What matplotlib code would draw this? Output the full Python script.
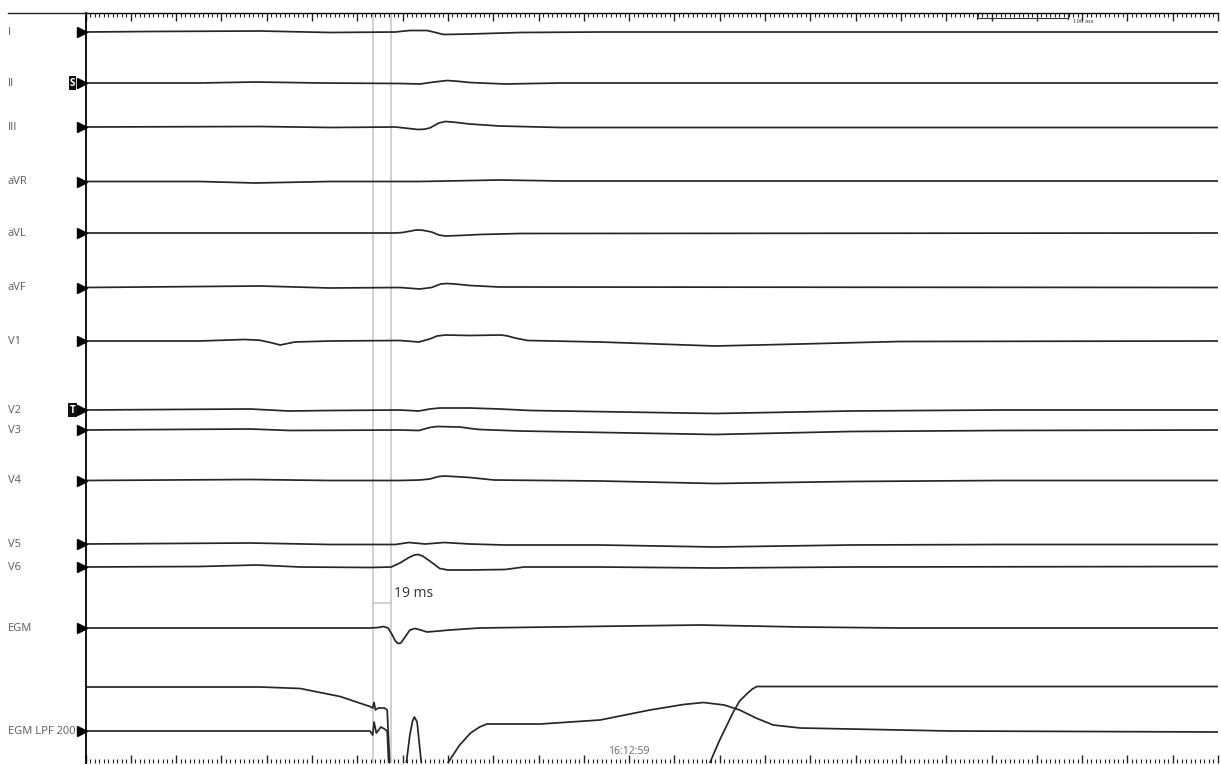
import numpy as np
import matplotlib.pyplot as plt
from matplotlib.lines import Line2D
from matplotlib.ticker import MultipleLocator
from matplotlib.transforms import blended_transform_factory

plt.rcParams["font.family"] = ["Open Sans", "DejaVu Sans"]

# ---- data: time in ms, deflection in screen px (up = positive) ----
lead_I_t = [0, 71, 193, 270, 342, 350, 358, 377, 384, 395, 424, 480, 568, 1250]
lead_I_v = [0, 0.5, 1, -0.5, 0, 0.8, 1.5, 1.5, 0, -2.5, -2, -0.5, 0, 0]

lead_II_t = [0, 126, 187, 260, 347, 369, 385, 399, 410, 424, 463, 524, 1250]
lead_II_v = [0, 0, 1, 0, -0.5, -1, 1, 2.5, 1.8, 0.5, -1, 0, 0]

lead_III_t = [0, 193, 270, 342, 360, 367, 374, 380, 390, 397, 405, 424, 457, 524, 1250]
lead_III_v = [0, 0.5, -0.5, 0, -1.8, -2.5, -2.2, -1, 4, 5.5, 5, 3, 1, -0.5, -0.5]

lead_aVR_t = [0, 126, 187, 270, 369, 457, 524, 1250]
lead_aVR_v = [0, 0, -1.5, 0, 0, 1.5, 0.5, 0.5]

lead_aVL_t = [0, 342, 350, 358, 365, 372, 382, 390, 397, 410, 435, 480, 1250]
lead_aVL_v = [0, 0, 0.5, 1.8, 3, 2.8, 1, -2, -3, -2.6, -1.5, -0.5, 0]

lead_aVF_t = [0, 193, 270, 347, 369, 382, 392, 399, 408, 424, 457, 1250]
lead_aVF_v = [0, 1.5, -0.5, 0, -1.5, 0, 3.5, 4, 3.5, 2, 0.5, 0]

lead_V1_t = [0, 126, 175, 192, 204, 215, 223, 231, 270, 347, 368, 380, 388, 397, 424,
             459, 466, 474, 488, 568, 695, 789, 899, 1250]
lead_V1_v = [0, 0, 1.5, 0.8, -1.5, -4, -2.5, -1, 0, 0.5, -1, 2, 5, 6, 5.5,
             6, 5, 3, 0.5, -1, -5, -3, -0.5, 0]

lead_V2_t = [0, 182, 224, 270, 347, 368, 380, 391, 424, 457, 491, 695, 844, 1009, 1250]
lead_V2_v = [0, 1, -1, -0.5, 0, -1, 1, 2, 2, 1, -0.5, -3.5, -1, 0, 0]

lead_V3_t = [0, 182, 226, 347, 368, 380, 388, 413, 425, 435, 480, 695, 844, 1009, 1250]
lead_V3_v = [0, 1, -0.5, 0, -0.5, 2.5, 3.5, 3, 1.5, 0.5, -1, -4.5, -1.5, -0.5, 0]

lead_V4_t = [0, 182, 270, 347, 369, 380, 390, 396, 410, 424, 451, 568, 695, 844, 1009, 1250]
lead_V4_v = [0, 1, 0, 0, 0.5, 1.5, 4, 4.5, 3.8, 3, 0.5, -0.5, -3, -1, 0, 0]

lead_V5_t = [0, 182, 270, 342, 357, 375, 396, 424, 463, 568, 695, 844, 1009, 1250]
lead_V5_v = [0, 1, -0.5, -0.5, 1.5, 0, 1.5, 0, -1, -1, -3, -1, -0.5, -0.5]

lead_V6_t = [0, 126, 189, 237, 314, 337.5, 347, 357, 363, 367, 372, 380, 391, 400,
             424, 463, 484, 568, 695, 844, 1250]
lead_V6_v = [0, 0.5, 2, 0, -0.5, 0, 4, 9.5, 12, 12.5, 11, 6, -1.5, -3,
             -3, -2.5, 0, 0, -1, 0, 0.5]

egm_t = [0, 314, 323, 329, 334, 338, 342, 345, 348, 352, 358, 364, 370, 377, 390, 402,
         435, 513, 678, 789, 899, 1250]
egm_v = [0, 0, 0.5, 1.5, 0, -6, -13, -15.5, -15, -10, -2, -0.5, -2, -4, -3, -2,
         0, 1, 3, 1, 0, 0]

ramp_t = [0, 193, 237, 281, 314, 317, 318.5, 320, 323, 330, 333, 337, np.nan,
          689, 700, 715, 722, 731, 736, 741, 1250]
ramp_v = [0, 0, -1.5, -9.5, -19.5, -21, -15.5, -23, -21, -21, -23, -100, np.nan,
          -76, -53, -25, -14, -6, -2, 0.5, 0.5]

lpf_t = [0, 237, 314, 317, 318.5, 321, 326, 330, 333, 335, 353, 358, 361, 363, 366, 371,
         398, 402, 413, 425, 435, 443, 502, 568, 623, 660, 682, 705, 722, 740, 759, 789,
         844, 954, 1250]
lpf_v = [0, 0, 0, -4, 9, -2, 4, 2, 0, -40, -40, -4, 10, 14, 9, -35,
         -35, -29, -14, -2, 4, 7, 7, 11, 21, 26.5, 28.5, 26, 21, 13, 6, 3,
         2, 0, -1]

labels = ["I", "II", "III", "aVR", "aVL", "aVF", "V1", "V2", "V3", "V4", "V5", "V6",
          "EGM", None, "EGM LPF 200"]
caliper_ms = [317, 337.5]
caliper_text = "19 ms"
clock_text = "16:12:59"
clock_ms = 600
scale_ms = [984, 1084]

traces = [(lead_I_t, lead_I_v), (lead_II_t, lead_II_v), (lead_III_t, lead_III_v),
          (lead_aVR_t, lead_aVR_v), (lead_aVL_t, lead_aVL_v), (lead_aVF_t, lead_aVF_v),
          (lead_V1_t, lead_V1_v), (lead_V2_t, lead_V2_v), (lead_V3_t, lead_V3_v),
          (lead_V4_t, lead_V4_v), (lead_V5_t, lead_V5_v), (lead_V6_t, lead_V6_v),
          (egm_t, egm_v), (ramp_t, ramp_v), (lpf_t, lpf_v)]

# layout: baseline of each channel in screen px from top
baselines = [32, 83, 127, 181.5, 233, 287.5, 341, 410, 430, 480.5, 544, 567, 628, 687, 731]

W, H, DPI = 1221, 765, 100
fig = plt.figure(figsize=(W / DPI, H / DPI), dpi=DPI)
ax = fig.add_axes([85.5 / W, 2 / H, (1218 - 85.5) / W, (763 - 13) / H])
ax.set_xlim(0, 1250)
ax.set_ylim(763, 13)

for (t, v), base in zip(traces, baselines):
    y = base - np.array(v, dtype=float)
    ax.plot(t, y, color="#262626", lw=1.25, solid_joinstyle="round")

# caliper
for c in caliper_ms:
    ax.axvline(c, color="#c4c4c4", lw=1.1, zorder=0)
ax.plot(caliper_ms, [603, 603], color="#c4c4c4", lw=1.1)
ax.text(caliper_ms[1] + 3, 593, caliper_text, fontsize=10, color="#333333", va="center")

# time stamp
ax.text(clock_ms, 751, clock_text, fontsize=7.5, color="#666666", ha="center", va="center")

# scale bar top right
ax.plot(scale_ms, [18, 18], color="#333333", lw=0.8)
for s in scale_ms:
    ax.plot([s, s], [14, 19], color="#333333", lw=0.8)
ax.text(scale_ms[1] + 6, 21, "100 ms", fontsize=4, color="#333333", va="center",
        family="DejaVu Serif")

# spines and ticks
for side in ["right", "bottom"]:
    ax.spines[side].set_visible(False)
ax.spines["left"].set_linewidth(1.3)
ax.spines["top"].set_linewidth(1.0)
ax.xaxis.set_major_locator(MultipleLocator(50))
ax.xaxis.set_minor_locator(MultipleLocator(5))
ax.tick_params(axis="x", which="both", top=True, bottom=True, direction="in",
               labelbottom=False, labeltop=False, color="#222222")
ax.tick_params(axis="x", which="major", length=6, width=1.0)
ax.tick_params(axis="x", which="minor", length=3.2, width=0.8)
ax.set_yticks([])

# top line extends to the label column
fig.add_artist(Line2D([8 / W, 85.5 / W], [1 - 13 / H, 1 - 13 / H], color="#222222", lw=1.0))

# labels and channel markers
lab_tr = blended_transform_factory(fig.transFigure, ax.transData)
mk_tr = ax.get_yaxis_transform()
for lab, base in zip(labels, baselines):
    if lab is None:
        continue
    ax.text(8 / W, base, lab, transform=lab_tr, fontsize=8, color="#5a5a5a", va="center")
    ax.plot([-0.0035], [base], marker=">", markersize=6.5, color="black", transform=mk_tr,
            clip_on=False)

for lab, base in [("S", 83), ("T", 410)]:
    ax.text(72.5 / W, base, lab, transform=lab_tr, fontsize=7, color="white",
            ha="center", va="center", fontweight="bold",
            bbox=dict(boxstyle="square,pad=0.12", fc="#111111", ec="none"))

fig.savefig("out.png", dpi=DPI)
